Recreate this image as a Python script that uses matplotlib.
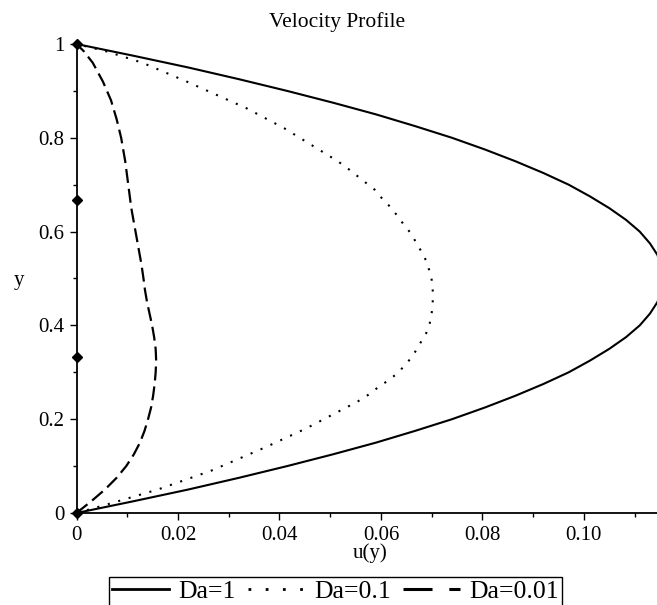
import matplotlib
matplotlib.use("Agg")
import matplotlib.pyplot as plt
from matplotlib.lines import Line2D
from matplotlib.ticker import MultipleLocator, FixedLocator

# ---- data ----
y_da1 = [0.0, 0.025, 0.05, 0.075, 0.10, 0.125, 0.15, 0.175, 0.20, 0.225,
         0.25, 0.275, 0.30, 0.325, 0.35, 0.375, 0.40, 0.425, 0.45, 0.475,
         0.50, 0.525, 0.55, 0.575, 0.60, 0.625, 0.65, 0.675, 0.70, 0.725,
         0.75, 0.775, 0.80, 0.825, 0.85, 0.875, 0.90, 0.925, 0.95, 0.975, 1.0]
u_da1 = [0.0, 0.0112, 0.0220, 0.0320, 0.0415, 0.0505, 0.0590, 0.0667, 0.0740, 0.0805,
         0.0865, 0.0920, 0.0970, 0.1012, 0.1050, 0.1083, 0.1110, 0.1130, 0.1145, 0.1152,
         0.1155, 0.1152, 0.1145, 0.1130, 0.1110, 0.1083, 0.1050, 0.1012, 0.0970, 0.0920,
         0.0865, 0.0805, 0.0740, 0.0667, 0.0590, 0.0505, 0.0415, 0.0320, 0.0220, 0.0112, 0.0]

y_da01 = [0.0, 0.02, 0.05, 0.09, 0.14, 0.18, 0.21, 0.237, 0.252, 0.266,
          0.278, 0.294, 0.311, 0.330, 0.348, 0.365, 0.383, 0.404, 0.426, 0.450,
          0.475, 0.497, 0.518, 0.538, 0.557, 0.575, 0.595, 0.612, 0.631, 0.650,
          0.667, 0.689, 0.706, 0.731, 0.75, 0.778, 0.82, 0.863, 0.92, 0.96, 0.984, 1.0]
u_da01 = [0.0, 0.0066, 0.0160, 0.0265, 0.0372, 0.0452, 0.0505, 0.0553, 0.0575, 0.0592,
          0.0608, 0.0628, 0.0644, 0.0659, 0.0670, 0.0679, 0.0689, 0.0696, 0.0700, 0.0702,
          0.0702, 0.0700, 0.0695, 0.0689, 0.0680, 0.0670, 0.0660, 0.0647, 0.0634, 0.0621,
          0.0605, 0.0588, 0.0568, 0.0539, 0.0515, 0.0473, 0.0410, 0.0335, 0.0217, 0.0130,
          0.0060, 0.0]

y_da001 = [0.0, 0.025, 0.05, 0.075, 0.10, 0.125, 0.15, 0.175, 0.20, 0.225,
           0.25, 0.275, 0.30, 0.325, 0.35, 0.375, 0.40, 0.425, 0.45, 0.475,
           0.50, 0.53, 0.56, 0.59, 0.62, 0.65, 0.70, 0.75, 0.80, 0.84,
           0.88, 0.92, 0.96, 0.985, 1.0]
u_da001 = [0.0, 0.0029, 0.0056, 0.0079, 0.0098, 0.0113, 0.0125, 0.0134, 0.0141, 0.0147,
           0.0151, 0.0154, 0.0156, 0.0157, 0.0156, 0.0153, 0.0149, 0.0144, 0.0139, 0.0135,
           0.0132, 0.0128, 0.0123, 0.0118, 0.0113, 0.0108, 0.0102, 0.0096, 0.0088, 0.0079,
           0.0068, 0.0052, 0.0032, 0.0014, 0.0]

bc_y = [0.0, 1/3, 2/3, 1.0]
bc_u = [0.0, 0.0, 0.0, 0.0]

x_ticks = [0.0, 0.02, 0.04, 0.06, 0.08, 0.10]
x_ticklabels = ["0", "0.02", "0.04", "0.06", "0.08", "0.10"]
y_ticks = [0.0, 0.2, 0.4, 0.6, 0.8, 1.0]
y_ticklabels = ["0", "0.2", "0.4", "0.6", "0.8", "1"]
labels = ["Da=1", "Da=0.1", "Da=0.01"]

plt.rcParams["font.family"] = ["Liberation Serif", "DejaVu Serif"]

W, H = 657, 605
fig = plt.figure(figsize=(W / 100, H / 100), dpi=100)
ax = fig.add_axes([76.5 / W, 1 - 513 / H, 1 - 76.5 / W, (513 - 44) / H])

lw = 1.5
ax.plot(u_da1, y_da1, color="black", lw=lw, solid_capstyle="butt",
        solid_joinstyle="round")
ax.plot(u_da01, y_da01, color="black", lw=lw, linestyle=(0, (1, 4.2)),
        dash_capstyle="butt")
ax.plot(u_da001, y_da001, color="black", lw=1.6, linestyle=(0, (6.3, 2.7)),
        dash_capstyle="butt", dash_joinstyle="round")
ax.plot(bc_u, bc_y, linestyle="none", marker="D", markersize=5.5,
        color="black", clip_on=False, zorder=5)

ax.set_xlim(0, 0.1144)
ax.set_ylim(0, 1)
for s in ["top", "right"]:
    ax.spines[s].set_visible(False)
for s in ["left", "bottom"]:
    ax.spines[s].set_linewidth(1.3)

ax.xaxis.set_major_locator(FixedLocator(x_ticks))
ax.set_xticklabels(x_ticklabels)
ax.xaxis.set_minor_locator(MultipleLocator(0.01))
ax.yaxis.set_major_locator(FixedLocator(y_ticks))
ax.set_yticklabels(y_ticklabels)
ax.yaxis.set_minor_locator(MultipleLocator(0.1))
ax.tick_params(which="major", direction="out", length=4.7, width=1.0,
               labelsize=15, colors="black")
ax.tick_params(which="minor", direction="out", length=2.9, width=1.0)
ax.tick_params(axis="x", which="major", pad=5)
ax.tick_params(axis="y", which="major", pad=4)

fig.text(337 / W, 1 - 26.7 / H, "Velocity Profile", ha="center", va="baseline",
         fontsize=15.5)
fig.text(370.5 / W, 1 - 558 / H, "u(y)", ha="center", va="baseline", fontsize=15)
fig.text(19 / W, 1 - 285 / H, "y", ha="center", va="baseline", fontsize=15)

handles = [
    Line2D([], [], color="black", lw=2.0),
    Line2D([], [], color="black", lw=2.0, linestyle=(0, (1, 5.2)), dash_capstyle="butt"),
    Line2D([], [], color="black", lw=2.2, linestyle=(0, (9.5, 5.5)), dash_capstyle="butt"),
]
leg = fig.legend(handles, labels, loc="upper left",
                 bbox_to_anchor=(109 / W, 1 - 577 / H), borderaxespad=0,
                 ncol=3, fontsize=18.5, handlelength=2.2, handletextpad=0.36,
                 columnspacing=0.5, borderpad=0.12, fancybox=False,
                 framealpha=1, edgecolor="black", frameon=True)
leg.get_frame().set_linewidth(1.0)

fig.savefig("out.png", dpi=100)
